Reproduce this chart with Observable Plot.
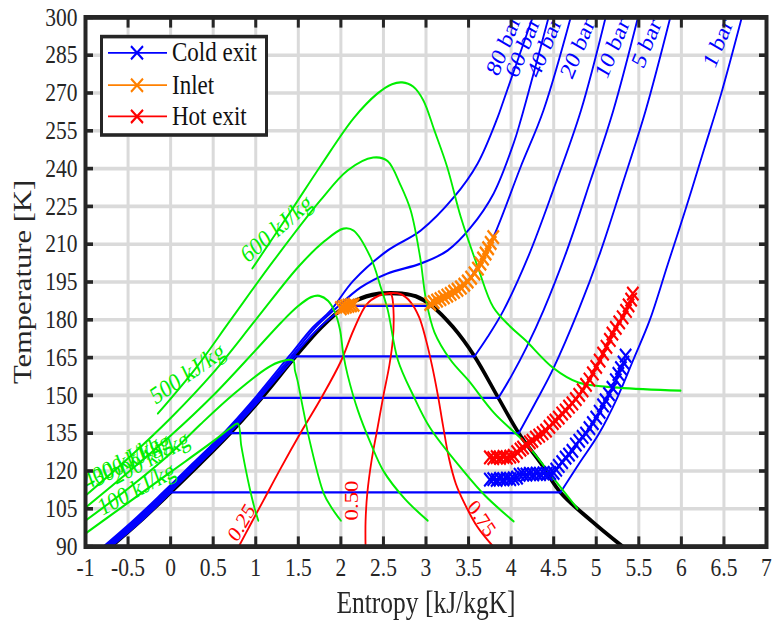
<!DOCTYPE html>
<html><head><meta charset="utf-8">
<script src="https://cdn.jsdelivr.net/npm/d3@7"></script>
<script src="https://cdn.jsdelivr.net/npm/@observablehq/plot@0.6"></script>
<style>
html,body{margin:0;padding:0;background:#fff;}
body{width:775px;height:620px;position:relative}
#stage{position:absolute;left:0;top:0;width:775px;height:517px;transform:scaleY(1.2);transform-origin:0 0;}
#legend{position:absolute;left:100px;top:29px;width:168px;height:85px;box-sizing:border-box;border:3px solid #262626;background:#fff;font-family:"Liberation Serif",serif;font-size:23px;color:#111}
#legend .row{position:absolute;left:0;height:26px;display:flex;align-items:center;white-space:nowrap}
#legend .row span{margin-left:3px;line-height:26px}
</style></head>
<body><div id="stage"><div id="chart"></div><div id="legend"></div></div>
<script>
// ---------- tick values ----------
const xTicks = [-1,-0.5,0,0.5,1,1.5,2,2.5,3,3.5,4,4.5,5,5.5,6,6.5,7];
const yTicks = [90,105,120,135,150,165,180,195,210,225,240,255,270,285,300];

// ---------- saturation dome (s [kJ/kgK], T [K]) ----------
const domeLiquid = [[-0.70,90],[-0.36,100],[0.0,111.5],[0.35,123],[0.70,135],[1.07,149],[1.47,165.5],[1.77,177],[2.06,185.5],[2.3,189.3],[2.45,190.4],[2.58,190.6]];
const domeVapour = [[2.58,190.6],[2.72,190.4],[2.88,189.3],[3.07,185.5],[3.32,177],[3.57,165.5],[3.85,149],[4.09,135],[4.35,123],[4.58,111.5],[4.95,100],[5.31,90]];

// ---------- isobars ----------
const p1Liquid = [[-0.70,90],[-0.35,100],[0.0,111.5]];
const p1Vapour = [[4.58,111.5],[4.80,123],[5.03,134.7],[5.25,149.3],[5.44,164.5],[5.63,180],[5.84,202],[6.06,225],[6.27,248],[6.47,270],[6.71,300]];
const p5Liquid = [[-0.71,90],[-0.37,100],[-0.01,111.5],[0.34,123],[0.70,135]];
const p5Vapour = [[4.09,135],[4.3,148],[4.5,161],[4.79,183.7],[5.05,207],[5.3,233],[5.58,263],[5.87,300]];
const p10Liquid = [[-0.72,90],[-0.38,100],[-0.02,111.5],[0.33,123],[0.69,135],[1.07,149]];
const p10Vapour = [[3.85,149],[4.0,157.5],[4.18,169],[4.38,183.7],[4.65,207],[4.93,235],[5.2,263],[5.49,300]];
const p20Liquid = [[-0.73,90],[-0.39,100],[-0.03,111.5],[0.32,123],[0.68,135],[1.05,149],[1.47,165.5]];
const p20Vapour = [[3.57,165.5],[3.72,173],[3.91,183.7],[4.2,205],[4.5,232],[4.82,263],[5.11,300]];
const p40Liquid = [[-0.75,90],[-0.41,100],[-0.05,111.5],[0.30,123],[0.66,135],[1.03,149],[1.44,165.5],[1.75,177],[2.06,185.5]];
const p40Vapour = [[3.07,185.5],[3.25,189.5],[3.44,193.6],[3.6,200.5],[3.8,213.5],[4.11,240.5],[4.38,263.1],[4.70,300]];
const p60 = [[-0.77,90],[-0.43,100],[-0.07,111.5],[0.28,123],[0.64,135],[1.01,149],[1.42,165.5],[1.70,177],[1.914,183.7],[2.231,192.8],[2.549,198.4],[2.937,202.3],[3.254,207.5],[3.524,216.6],[3.794,230.1],[4.029,250],[4.112,259.1],[4.44,300]];
const p80 = [[-0.79,90],[-0.45,100],[-0.09,111.5],[0.26,123],[0.62,135],[0.99,149],[1.39,165.5],[1.67,177],[1.879,183.7],[2.149,195.6],[2.549,207.5],[2.937,215.4],[3.324,228.5],[3.606,242],[3.841,260.3],[3.912,267.1],[4.253,300]];

// ---------- vapour quality lines ----------
const q25 = [[2.58,190.6],[2.45,189.6],[2.3,186],[2.15,176],[2.0,163.5],[1.77,149],[1.53,135.3],[1.3,121.5],[1.09,108.3],[0.95,99.5],[0.8,90]];
const q50 = [[2.58,190.6],[2.6,189.4],[2.62,182],[2.61,172],[2.57,162],[2.5,150],[2.43,137],[2.36,124],[2.31,111],[2.29,100],[2.29,90]];
const q75 = [[2.58,190.6],[2.70,190.2],[2.82,187],[2.92,181],[3.0,172],[3.07,162],[3.14,150],[3.2,138],[3.27,125],[3.35,115],[3.44,108],[3.6,98],[3.79,90]];

// ---------- isenthalps ----------
const h100 = [[-1,95.2],[-0.5,107.4],[0,119.6],[0.5,131.8],[0.7,137],[0.79,138.8],[0.83,130],[0.88,121],[0.93,113],[0.98,106],[1.03,100.3]];
const h200 = [[-1,100.3],[-0.5,113],[0,127],[0.35,138.5],[0.74,150.5],[1.14,161],[1.3,163.5],[1.44,163.8],[1.46,160],[1.49,156],[1.56,144],[1.64,131],[1.8,111],[1.9,105],[2.0,100.3]];
const h300 = [[-1,105.5],[-0.5,119.5],[0,134],[0.5,150],[1.0,168],[1.3,179],[1.5,185.5],[1.65,189],[1.75,189.5],[1.85,187.5],[1.93,183],[1.99,176],[2.03,166],[2.08,158],[2.2,144],[2.35,131],[2.5,120],[2.75,109],[3.02,100.3]];
const h400 = [[-1,110.2],[-0.5,125],[0,141],[0.5,159],[1.0,180],[1.5,201],[1.8,211],[2.03,216.2],[2.15,215.4],[2.35,204.7],[2.47,192.8],[2.55,184],[2.67,164],[2.85,150],[3.05,137],[3.44,120],[3.7,110],[4.03,100]];
const h500 = [[-0.15,142.8],[0.3,161],[0.7,179.7],[1.2,203],[1.76,227.4],[2.08,239.3],[2.38,244.4],[2.55,243],[2.7,233.5],[2.82,223.4],[2.93,205],[3.0,188],[3.1,175],[3.29,164],[3.5,155.9],[3.8,143],[4.17,131],[4.5,117],[4.78,105]];
const h600 = [[0.96,200.4],[1.4,222.5],[1.76,241],[2.15,260],[2.43,269.8],[2.6,273.5],[2.72,274.2],[2.85,272.5],[2.97,267],[3.1,255],[3.25,240.5],[3.41,220.6],[3.61,200.8],[3.79,185],[4.0,177],[4.17,171.8],[4.49,161],[4.79,155.1],[5.26,153.1],[5.99,151.9]];

// ---------- measured states ----------
const coldExit = [[3.75,116.6],[3.79,116.8],[3.83,116.5],[3.87,116.9],[3.91,116.7],[3.95,117.0],[3.99,116.8],[4.03,117.1],[4.07,117.4],[4.1,118.5],[4.14,118.7],[4.18,118.6],[4.22,118.9],[4.26,118.7],[4.3,119.0],[4.34,118.8],[4.38,119.1],[4.42,118.9],[4.46,119.2],[4.5,119.3],[4.53,120.5],[4.56,122.0],[4.6,123.5],[4.64,125.3],[4.68,126.5],[4.72,128.0],[4.76,130.5],[4.8,132.0],[4.84,133.5],[4.88,134.8],[4.92,137.0],[4.96,139.0],[5.0,141.2],[5.04,143.5],[5.08,146.0],[5.11,148.0],[5.15,150.5],[5.19,153.0],[5.23,156.0],[5.26,158.5],[5.29,160.8],[5.32,163.0],[5.345,165.8]];
const inlet = [[2.0,184.6],[2.03,185.0],[2.06,185.3],[2.09,185.6],[2.12,185.8],[2.15,186.0],[3.05,186.3],[3.09,187.0],[3.13,187.6],[3.17,188.2],[3.21,188.9],[3.25,189.6],[3.29,190.3],[3.33,191.1],[3.37,191.9],[3.41,192.8],[3.45,193.9],[3.49,195.2],[3.53,196.7],[3.57,198.4],[3.61,200.3],[3.64,202.3],[3.67,204.3],[3.70,206.3],[3.73,208.4],[3.76,210.5],[3.79,212.8]];
const hotExit = [[3.75,125.4],[3.79,125.1],[3.83,125.5],[3.87,125.2],[3.91,125.6],[3.95,125.3],[3.99,125.7],[4.03,126.0],[4.07,127.5],[4.11,128.5],[4.14,129.3],[4.18,130.5],[4.22,131.4],[4.25,132.0],[4.29,133.2],[4.33,134.0],[4.37,135.0],[4.41,136.0],[4.45,137.5],[4.49,139.0],[4.52,140.0],[4.56,141.2],[4.6,142.8],[4.64,144.0],[4.68,145.5],[4.72,146.8],[4.76,148.5],[4.8,150.2],[4.84,152.0],[4.88,154.2],[4.92,156.3],[4.96,158.7],[5.0,161.3],[5.04,163.8],[5.08,166.6],[5.12,169.3],[5.16,172.0],[5.19,174.5],[5.23,176.8],[5.27,179.0],[5.31,181.0],[5.35,183.5],[5.38,185.7],[5.41,188.0],[5.43,190.4]];

// ---------- annotation text ----------
const isobarLabelText = ["80 bar","60 bar","40 bar","20 bar","10 bar","5 bar","1 bar"];
const isobarLabelAt = [[3.91,288.9],[4.135,288.1],[4.39,288.1],[4.78,287.7],[5.19,287.7],[5.59,289.7],[6.43,289.7]];
const enthalpyLabelText = ["100 kJ/kg","200 kJ/kg","300 kJ/kg","400 kJ/kg","500 kJ/kg","600 kJ/kg"];
const enthalpyLabelAt = [[-0.40,112.9],[-0.236,125.3],[-0.459,124.5],[-0.577,123.3],[0.199,158.7],[1.245,216.2]];
const enthalpyLabelAngle = [-24,-24,-24,-24,-30,-36];
const qualityLabelText = ["0.25","0.50","0.75"];
const qualityLabelAt = [[0.833,99.5],[2.126,108.3],[3.653,101.1]];
const qualityLabelAngle = [-55,-90,52];

// ---------- build tables ----------
const pt = (id) => ([s, T]) => ({id, s, T});
const domeRows = [...domeLiquid, ...domeVapour.slice(1)].map(pt("dome"));
const isobarSegments = {
  "1 bar": [p1Liquid, [p1Liquid.at(-1), p1Vapour[0]], p1Vapour],
  "5 bar": [p5Liquid, [p5Liquid.at(-1), p5Vapour[0]], p5Vapour],
  "10 bar": [p10Liquid, [p10Liquid.at(-1), p10Vapour[0]], p10Vapour],
  "20 bar": [p20Liquid, [p20Liquid.at(-1), p20Vapour[0]], p20Vapour],
  "40 bar": [p40Liquid, [p40Liquid.at(-1), p40Vapour[0]], p40Vapour],
  "60 bar": [p60],
  "80 bar": [p80]
};
const isobarRows = Object.entries(isobarSegments).flatMap(([k, segs]) => segs.flatMap((seg, i) => seg.map(pt(k + "-" + i))));
const qualityRows = [["0.25", q25], ["0.50", q50], ["0.75", q75]].flatMap(([k, a]) => a.map(pt(k)));
const enthalpyRows = [["100", h100], ["200", h200], ["300", h300], ["400", h400], ["500", h500], ["600", h600]].flatMap(([k, a]) => a.map(pt(k)));
const coldRows = coldExit.map(pt("Cold exit"));
const inletRows = inlet.map(pt("Inlet"));
const hotRows = hotExit.map(pt("Hot exit"));
const isobarLabels = isobarLabelText.map((t, i) => ({t, s: isobarLabelAt[i][0], T: isobarLabelAt[i][1]}));
const enthalpyLabels = enthalpyLabelText.map((t, i) => ({t, s: enthalpyLabelAt[i][0], T: enthalpyLabelAt[i][1], a: enthalpyLabelAngle[i]}));
const qualityLabels = qualityLabelText.map((t, i) => ({t, s: qualityLabelAt[i][0], T: qualityLabelAt[i][1], a: qualityLabelAngle[i]}));

const BLUE = "#0000ff", RED = "#ff0000", GREEN = "#00ee00", ORANGE = "#ff8000", INK = "#262626";
const fmt = d => String(d);

const chart = Plot.plot({
  width: 775, height: 517,
  marginLeft: 85, marginRight: 9, marginTop: 14, marginBottom: 62,
  x: {domain: [-1, 7]},
  y: {domain: [90, 300]},
  style: {fontFamily: "'Liberation Serif', serif", fontSize: "21.5px", color: INK, background: "#ffffff", overflow: "visible"},
  marks: [
    Plot.gridX(xTicks, {stroke: "#dadada", strokeOpacity: 1, strokeWidth: 3}),
    Plot.gridY(yTicks, {stroke: "#dadada", strokeOpacity: 1, strokeWidth: 3}),
    Plot.line(domeRows, {x: "s", y: "T", stroke: "#000000", strokeWidth: 3.5, curve: "catmull-rom", clip: true}),
    Plot.line(isobarRows, {x: "s", y: "T", z: "id", stroke: BLUE, strokeWidth: 1.8, curve: "catmull-rom", clip: true}),
    Plot.line(qualityRows, {x: "s", y: "T", z: "id", stroke: RED, strokeWidth: 1.8, curve: "catmull-rom", clip: true}),
    Plot.line(enthalpyRows, {x: "s", y: "T", z: "id", stroke: GREEN, strokeWidth: 1.8, curve: "catmull-rom", clip: true}),
    Plot.text(isobarLabels, {x: "s", y: "T", text: "t", rotate: -64, fill: BLUE, fontSize: 21}),
    Plot.text(enthalpyLabels.filter(d => d.a === -24), {x: "s", y: "T", text: "t", rotate: -24, fill: GREEN, fontSize: 21}),
    Plot.text(enthalpyLabels.filter(d => d.a === -30), {x: "s", y: "T", text: "t", rotate: -30, fill: GREEN, fontSize: 21}),
    Plot.text(enthalpyLabels.filter(d => d.a === -36), {x: "s", y: "T", text: "t", rotate: -36, fill: GREEN, fontSize: 21}),
    Plot.text(qualityLabels.filter(d => d.a === -55), {x: "s", y: "T", text: "t", rotate: -55, fill: RED, fontSize: 19}),
    Plot.text(qualityLabels.filter(d => d.a === -90), {x: "s", y: "T", text: "t", rotate: -90, fill: RED, fontSize: 19}),
    Plot.text(qualityLabels.filter(d => d.a === 52), {x: "s", y: "T", text: "t", rotate: 52, fill: RED, fontSize: 19}),
    Plot.line(coldRows, {x: "s", y: "T", stroke: BLUE, strokeWidth: 1.3}),
    Plot.dot(coldRows, {x: "s", y: "T", symbol: "times", r: 5.2, stroke: BLUE, strokeWidth: 2}),
    Plot.line(inletRows, {x: "s", y: "T", stroke: ORANGE, strokeWidth: 1.4, strokeOpacity: 0.6}),
    Plot.dot(inletRows, {x: "s", y: "T", symbol: "times", r: 5.2, stroke: ORANGE, strokeWidth: 2.2}),
    Plot.line(hotRows, {x: "s", y: "T", stroke: RED, strokeWidth: 1.3}),
    Plot.dot(hotRows, {x: "s", y: "T", symbol: "times", r: 5.2, stroke: RED, strokeWidth: 2}),
    Plot.frame({stroke: INK, strokeWidth: 4}),
    Plot.axisX(xTicks, {anchor: "bottom", tickSize: 8, dy: -8, fill: "none", stroke: INK, strokeWidth: 3, label: null}),
    Plot.axisX(xTicks, {anchor: "top", tickSize: 8, dy: 8, fill: "none", stroke: INK, strokeWidth: 3, label: null}),
    Plot.axisY(yTicks, {anchor: "left", tickSize: 8, dx: 8, fill: "none", stroke: INK, strokeWidth: 3, label: null}),
    Plot.axisY(yTicks, {anchor: "right", tickSize: 8, dx: -8, fill: "none", stroke: INK, strokeWidth: 3, label: null}),
    Plot.axisX(xTicks, {anchor: "bottom", tickSize: 0, tickPadding: 9, tickFormat: fmt, label: null, fill: INK, fontSize: 21.5}),
    Plot.axisY(yTicks, {anchor: "left", tickSize: 0, tickPadding: 8, tickFormat: fmt, label: null, fill: INK, fontSize: 21.5}),
    Plot.text(["Entropy [kJ/kgK]"], {text: d => d, frameAnchor: "bottom", dy: 47.5, textAnchor: "middle", lineAnchor: "middle", fontSize: 25.5, fill: INK}),
    Plot.text(["Temperature [K]"], {text: d => d, frameAnchor: "left", dx: -63, rotate: -90, textAnchor: "middle", lineAnchor: "middle", fontSize: 25.5, fill: INK})
  ]
});
document.getElementById("chart").appendChild(chart);

// ---------- legend ----------
const legendItems = [["Cold exit", BLUE], ["Inlet", ORANGE], ["Hot exit", RED]];
const rowTops = [-1, 25.6, 52.3];
document.getElementById("legend").innerHTML = legendItems.map(([name, c], i) =>
  `<div class="row" style="top:${rowTops[i]}px"><svg width="66" height="26"><line x1="5" y1="13" x2="64" y2="13" stroke="${c}" stroke-width="1.5"/><path d="M28,7.5L40,18.5M40,7.5L28,18.5" stroke="${c}" stroke-width="2" fill="none"/></svg><span>${name}</span></div>`
).join("");
</script></body></html>
